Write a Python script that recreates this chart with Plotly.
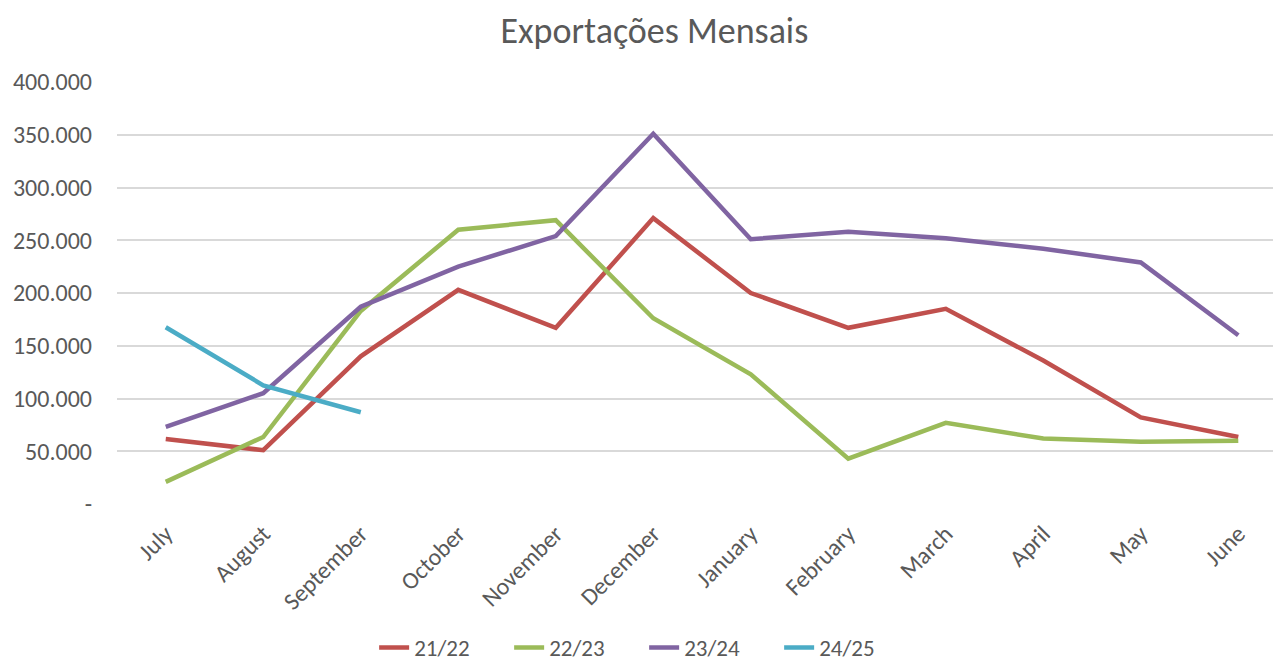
import plotly.graph_objects as go

months = ["July", "August", "September", "October", "November", "December",
          "January", "February", "March", "April", "May", "June"]
s2122 = [61600, 51000, 140000, 203000, 167000, 271000, 200000, 167000, 185000, 136000, 82000, 63500]
s2223 = [21000, 63500, 183000, 260000, 269000, 176000, 123000, 43000, 77000, 62000, 59000, 60000]
s2324 = [73000, 105000, 187000, 225000, 254000, 351000, 251000, 258000, 252000, 242000, 229000, 160000]
s2425 = [167500, 112500, 87000]

series = [("21/22", s2122, "#C0504D"), ("22/23", s2223, "#9BBB59"),
          ("23/24", s2324, "#8064A2"), ("24/25", s2425, "#4BACC6")]

ytick_vals = [0, 50000, 100000, 150000, 200000, 250000, 300000, 350000, 400000]
ytick_text = ["-", "50.000", "100.000", "150.000", "200.000", "250.000", "300.000", "350.000", "400.000"]

FONT = "Carlito, Calibri, Lato, sans-serif"

fig = go.Figure()
for name, vals, color in series:
    fig.add_trace(go.Scatter(x=months[:len(vals)], y=vals, name=name, mode="lines",
                             line=dict(color=color, width=4.5), ))

fig.update_layout(
    width=1273, height=669,
    paper_bgcolor="white", plot_bgcolor="white",
    margin=dict(l=117, r=0, t=82, b=165, autoexpand=False),
    title=dict(text="Exportações Mensais", x=0.514, xref="container", xanchor="center",
               y=0.955, yref="container", yanchor="middle",
               font=dict(family=FONT, size=36, color="#595959")),
    font=dict(family=FONT, color="#595959"),
    showlegend=True,
    legend=dict(orientation="h", x=0.506, xref="container", xanchor="center",
                y=0.0, yref="container", yanchor="bottom",
                entrywidth=90, entrywidthmode="pixels",
                font=dict(size=23, color="#595959"), traceorder="normal"),
    xaxis=dict(type="category", range=[-0.5, 11.356], tickangle=-45,
               tickfont=dict(size=24, color="#595959"), showgrid=False, showline=False,
               ticks="", zeroline=False, ticklabelstandoff=10),
    yaxis=dict(range=[0, 400000], tickvals=ytick_vals, ticktext=ytick_text,
               tickfont=dict(size=24, color="#595959"), showgrid=True, gridcolor="#D9D9D9",
               gridwidth=1.5, zeroline=False, showline=False, ticks="", ticklabelstandoff=24),
)

fig.write_html("out.html")
